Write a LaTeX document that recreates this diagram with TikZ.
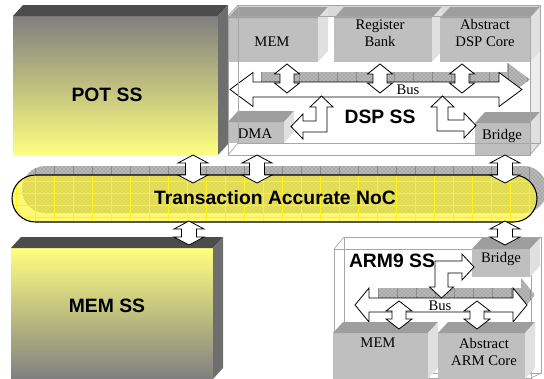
\documentclass[tikz,border=0pt]{standalone}
\usepackage{fontspec}
\setmainfont{Liberation Serif}
\setsansfont{Liberation Sans}
\usetikzlibrary{calc,fit,patterns}

% block arrows, in pixel units: x, top tip, bottom tip, shaft half, head half, head length
\newcommand{\vbiarrow}[6]{%
  \draw[blockarrow] (#1,#2) -- ({#1+#5},{#2+#6}) -- ({#1+#4},{#2+#6}) -- ({#1+#4},{#3-#6})
    -- ({#1+#5},{#3-#6}) -- (#1,#3) -- ({#1-#5},{#3-#6}) -- ({#1-#4},{#3-#6})
    -- ({#1-#4},{#2+#6}) -- ({#1-#5},{#2+#6}) -- cycle;}
% y, left tip, right tip, shaft half, head half, head length
\newcommand{\hbiarrow}[6]{%
  \draw[blockarrow] (#2,#1) -- ({#2+#6},{#1-#5}) -- ({#2+#6},{#1-#4}) -- ({#3-#6},{#1-#4})
    -- ({#3-#6},{#1-#5}) -- (#3,#1) -- ({#3-#6},{#1+#5}) -- ({#3-#6},{#1+#4})
    -- ({#2+#6},{#1+#4}) -- ({#2+#6},{#1+#5}) -- cycle;}
% hatched bus shadow: y, left end, right tip, shaft half, head half, head length
\newcommand{\busshadow}[6]{%
  \begin{scope}
    \clip (#2,{#1-#4}) -- ({#3-#6},{#1-#4}) -- ({#3-#6},{#1-#5}) -- (#3,#1)
      -- ({#3-#6},{#1+#5}) -- ({#3-#6},{#1+#4}) -- (#2,{#1+#4}) -- cycle;
    \fill[shadowfill] (#2,{#1-#5}) rectangle (#3,{#1+#5});
    \foreach \k in {0,...,15} \draw[gridline] ({#2+19*\k},{#1-#5}) -- ++(0,{2*#5});
  \end{scope}}
% top and side faces behind a front face node
\newcommand{\faces}[3]{%
  \fill[#2] (#1.north west) -- ++(10,-11) -- ($(#1.north east)+(10,-11)$) -- (#1.north east) -- cycle;
  \fill[#3] (#1.north east) -- ++(10,-11) -- ($(#1.south east)+(10,-11)$) -- (#1.south east) -- cycle;}

\begin{document}
\begin{tikzpicture}[x=0.75pt, y=-0.75pt,
    box/.style={inner sep=0pt, outer sep=0pt},
    comp/.style={box, fill=black!25},
    title/.style={font=\sffamily\bfseries\fontsize{14.5}{17}\selectfont, inner sep=0pt},
    lbl/.style={font=\fontsize{11}{12.75}\selectfont, align=center, inner sep=0pt},
    blockarrow/.style={draw=black, fill=white, line width=0.6pt, line join=miter},
    shadowfill/.style={preaction={fill=black!28}, pattern=crosshatch dots, pattern color=black!55},
    gridline/.style={draw=black!45, line width=0.35pt},
    frame/.style={draw=black!35, line width=0.5pt},
    nocgrid/.style={draw=yellow!90!white, line width=0.3pt}]
  \useasboundingbox (0,0) rectangle (544,379);

  % POT SS
  \node[box, fit={(13,16)(218,155)}, top color=black!50, bottom color=yellow!50] (pot) {};
  \faces{pot}{black!70}{black!57}
  \node[title] (pottxt) at (107,95) {POT SS};

  % MEM SS
  \node[box, fit={(11,248)(213,379)}, top color=yellow!50, bottom color=black!50] (memss) {};
  \faces{memss}{black!70}{black!57}
  \node[title] (memsstxt) at (107,306) {MEM SS};

  % DSP SS
  \fill[black!15] (228,16) -- (238,5) -- (540,5) -- (530,16) -- cycle;
  \fill[black!7] (530,16) -- (540,5) -- (540,143) -- (530,155) -- cycle;
  \node[box, fit={(228,16)(530,155)}] (dsp) {};
  \node[comp, fit={(228,18)(318,62)}] (dmem) {};
  \faces{dmem}{black!38}{black!12}
  \node[comp, fit={(334,18)(432,62)}] (dreg) {};
  \faces{dreg}{black!38}{black!12}
  \node[comp, fit={(440,18)(530,62)}] (dcore) {};
  \faces{dcore}{black!38}{black!12}
  \node[lbl] (dmemtxt) at (272,42) {MEM};
  \node[lbl] (dregtxt) at (380,33) {Register\\Bank};
  \node[lbl] (dcoretxt) at (485,33) {Abstract\\DSP Core};

  \busshadow{79.5}{261}{530}{7.5}{17}{23}
  \hbiarrow{89.5}{230}{522}{7.5}{17}{23}
  \node[lbl] (dbustxt) at (408,90) {Bus};
  \vbiarrow{287}{64}{93}{7}{12.5}{10}
  \vbiarrow{380}{64}{93}{7}{12.5}{10}
  \vbiarrow{462}{64}{93}{7}{12.5}{10}

  \node[comp, fit={(228,122)(284,143)}] (dma) {};
  \faces{dma}{black!38}{black!12}
  \node[lbl] (dmatxt) at (255,134) {DMA};
  \node[comp, fit={(475,123)(530,155)}] (dbridge) {};
  \faces{dbridge}{black!38}{black!12}
  \node[lbl] (dbridgetxt) at (502,136) {Bridge};

  % bus to DMA and to Bridge
  \draw[blockarrow] (321.5,96) -- (333,107) -- (327,107) -- (327,132) -- (303,132) -- (303,139)
    -- (291,126.5) -- (303,114) -- (303,121) -- (316,121) -- (316,107) -- (310,107) -- cycle;
  \draw[blockarrow] (442.5,96) -- (454,107) -- (448,107) -- (448,120) -- (464,120) -- (464,113)
    -- (476,125.5) -- (464,138) -- (464,131) -- (437,131) -- (437,107) -- (431,107) -- cycle;
  \node[title] (dsptxt) at (380,117) {DSP SS};

  \draw[frame] (dsp.north west) rectangle (dsp.south east);
  \draw[frame] (238,5) rectangle (540,143);
  \draw[frame] (228,16) -- (238,5) (530,16) -- (540,5) (530,155) -- (540,143) (228,155) -- (238,143);

  % NoC
  \begin{scope}
    \clip[rounded corners=17.6pt] (22,213) rectangle (547,166);
    \fill[shadowfill] (0,160) rectangle (544,225);
    \foreach \gx in {16,35,...,540} \draw[gridline] (\gx,160) -- (\gx,225);
  \end{scope}
  \node[box, fit={(12,175)(537,222)}, rounded corners=17.6pt, fill=yellow!85, fill opacity=0.65] (noc) {};
  \begin{scope}
    \clip[rounded corners=17.6pt] (noc.south west) rectangle (noc.north east);
    \foreach \gx in {16,35,...,540} \draw[nocgrid] (\gx,160) -- (\gx,230);
    \foreach \gy in {181,193,...,220} \draw[nocgrid] (0,\gy) -- (544,\gy);
  \end{scope}
  \draw[line width=0.8pt, rounded corners=17.6pt] (noc.south west) rectangle (noc.north east);
  \node[title] (noctxt) at (275,198) {Transaction Accurate NoC};

  % ARM9 SS
  \draw[frame] (344,237) rectangle (541,373);
  \draw[frame] (334,249) rectangle (531,378);
  \draw[frame] (334,249) -- (344,237) (531,249) -- (541,237) (531,378) -- (541,373);
  \node[comp, fit={(472,249)(530,277)}] (abridge) {};
  \faces{abridge}{black!38}{black!12}
  \node[lbl] (abridgetxt) at (501,259) {Bridge};

  \busshadow{295}{378}{535}{7}{17}{14}
  \hbiarrow{305}{355}{527}{7}{17}{14}
  \node[lbl] (abustxt) at (440,306) {Bus};

  \node[comp, fit={(333,333)(428,379)}] (amem) {};
  \faces{amem}{black!38}{black!12}
  \node[comp, fit={(438,333)(525,379)}] (acore) {};
  \faces{acore}{black!38}{black!12}
  \node[lbl] (amemtxt) at (378,343) {MEM};
  \node[lbl] (acoretxt) at (484,352) {Abstract\\ARM Core};

  \vbiarrow{399}{301}{329}{7}{13}{10}
  \vbiarrow{477}{301}{329}{7}{13}{10}
  % Bridge to bus
  \draw[blockarrow] (435,261) -- (462,261) -- (462,254) -- (474,267) -- (462,280) -- (462,273)
    -- (448,273) -- (448,287) -- (453.5,287) -- (441.5,298) -- (429.5,287) -- (435,287) -- cycle;
  \node[title] (armtxt) at (392,261) {ARM9 SS};

  % links to the NoC
  \vbiarrow{193}{155}{183}{7.5}{15}{8}
  \vbiarrow{257}{155}{183}{7.5}{15}{8}
  \vbiarrow{505}{155}{183}{7.5}{15}{8}
  \vbiarrow{189}{221}{245}{7.5}{15}{8}
  \vbiarrow{505}{221}{245}{7.5}{15}{8}
\end{tikzpicture}
\end{document}
